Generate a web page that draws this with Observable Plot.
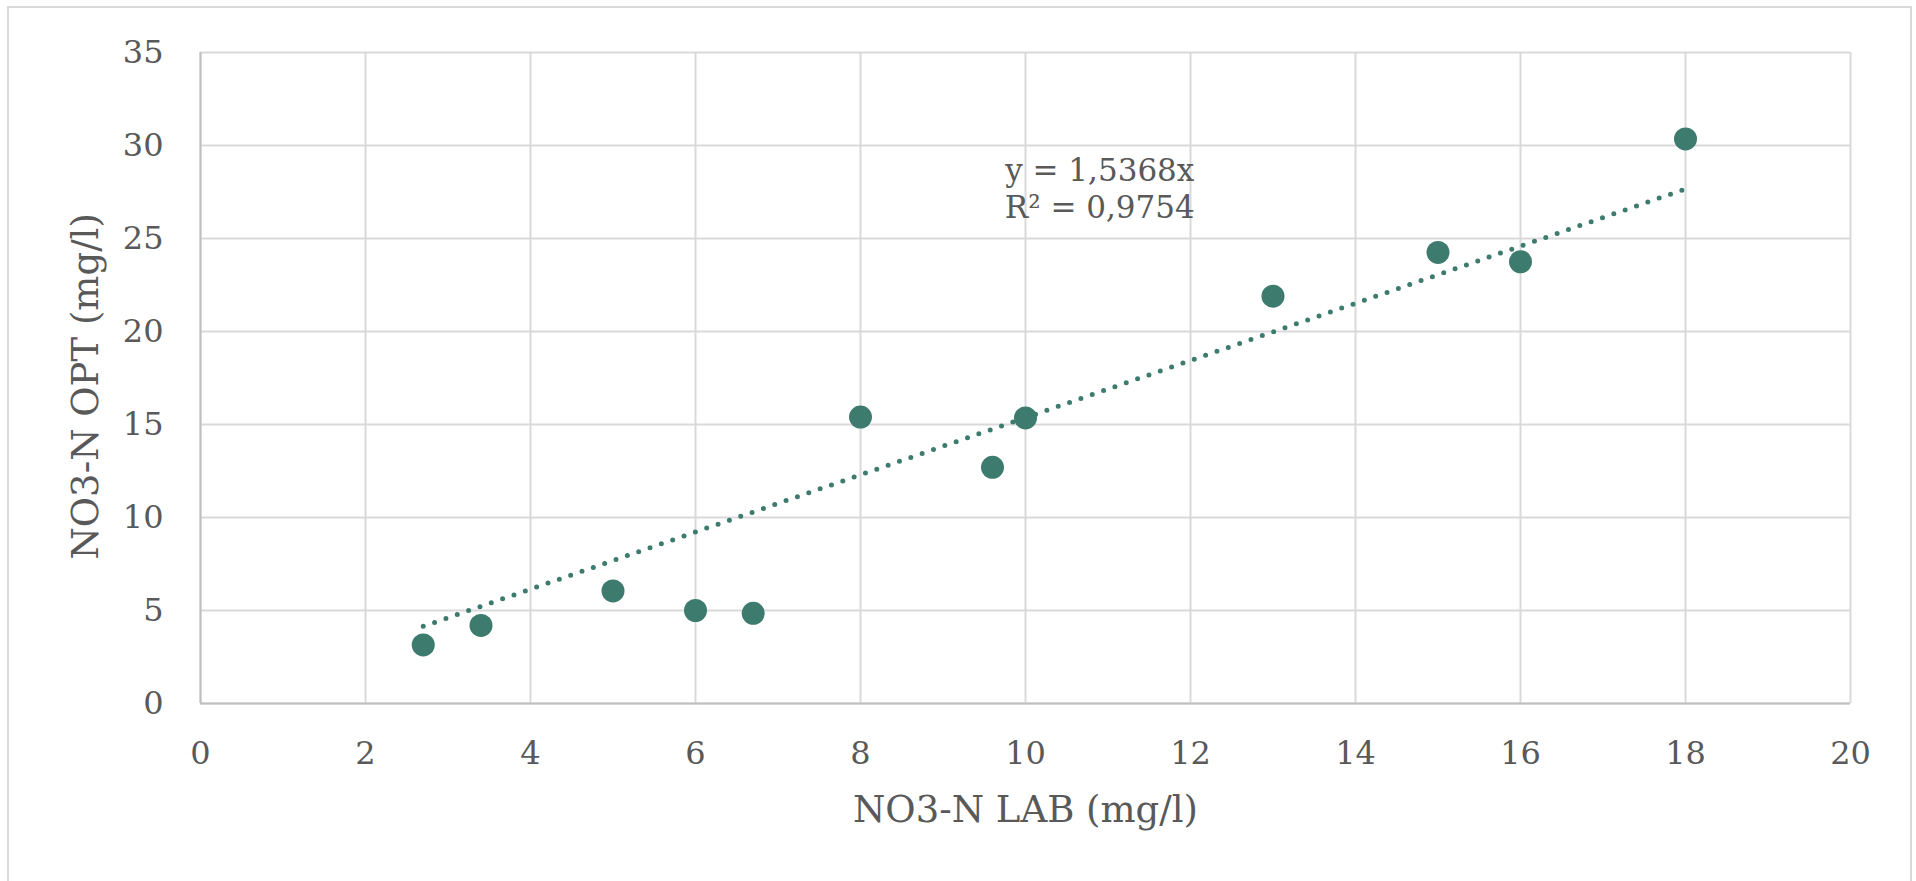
<!DOCTYPE html>
<html>
<head>
<meta charset="utf-8">
<script src="https://cdn.jsdelivr.net/npm/d3@7"></script>
<script src="https://cdn.jsdelivr.net/npm/@observablehq/plot@0.6"></script>
<style>
  html, body { margin: 0; padding: 0; background: #fff; overflow: hidden; }
  #frame { position: absolute; left: 7px; top: 6px; width: 1905px; height: 900px;
           border-top: 2px solid #d9d9d9; border-left: 2px solid #d9d9d9; border-right: 2px solid #d9d9d9; box-sizing: border-box; }
  #chart { position: absolute; left: 0; top: 0; }
</style>
</head>
<body>
<div id="frame"></div>
<div id="chart"></div>
<script>
// Data
const labX = [2.7, 3.4, 5.0, 6.0, 6.7, 8.0, 9.6, 10.0, 13.0, 15.0, 16.0, 18.0];
const optY = [3.15, 4.2, 6.05, 5.0, 4.85, 15.4, 12.7, 15.35, 21.9, 24.25, 23.75, 30.35];
const xTicks = [0, 2, 4, 6, 8, 10, 12, 14, 16, 18, 20];
const yTicks = [0, 5, 10, 15, 20, 25, 30, 35];
const trendSlope = 1.5368;           // from "y = 1,5368x"
const trendRange = [2.7, 18];        // extent of the drawn trendline
const trendLabel = ["y = 1,5368x", "R² = 0,9754"];
const xTitle = "NO3-N LAB (mg/l)";
const yTitle = "NO3-N OPT (mg/l)";

const points = labX.map((x, i) => ({x, y: optY[i]}));
const trend = trendRange.map(x => ({x, y: trendSlope * x}));

const color = "#3e7b6f";
const textColor = "#595959";

const chart = Plot.plot({
  width: 1916,
  height: 881,
  marginLeft: 200,
  marginRight: 66,
  marginTop: 52,
  marginBottom: 178,
  style: {fontFamily: "'DejaVu Serif', serif", fontSize: "32px", color: textColor, background: "transparent"},
  x: {domain: [0, 20], ticks: xTicks},
  y: {domain: [0, 35], ticks: yTicks},
  marks: [
    Plot.gridX(xTicks, {stroke: "#d9d9d9", strokeOpacity: 1, strokeWidth: 2}),
    Plot.gridY(yTicks, {stroke: "#d9d9d9", strokeOpacity: 1, strokeWidth: 2}),
    Plot.ruleX([0], {stroke: "#bfbfbf", strokeWidth: 2}),
    Plot.ruleY([0], {stroke: "#bfbfbf", strokeWidth: 2}),
    Plot.axisX(xTicks, {tickSize: 0, tickPadding: 38, label: null, fontSize: 32, fill: textColor}),
    Plot.axisY(yTicks, {tickSize: 0, tickPadding: 37, label: null, fontSize: 32, fill: textColor}),
    Plot.line(trend, {x: "x", y: "y", stroke: color, strokeWidth: 5, strokeDasharray: "0,12", strokeLinecap: "round"}),
    Plot.dot(points, {x: "x", y: "y", r: 11.5, fill: color, stroke: "none"}),
    Plot.text([trendLabel.join("\n")], {x: 10.9, y: 27.75, text: d => d, fontSize: 31, lineHeight: 1.2, fill: textColor, textAnchor: "middle"}),
    Plot.text([xTitle], {x: 10, y: -5.75, text: d => d, fontSize: 37, fill: textColor, textAnchor: "middle", lineAnchor: "middle"}),
    Plot.text([yTitle], {x: -1.39, y: 17.05, rotate: -90, text: d => d, fontSize: 37, fill: textColor, textAnchor: "middle", lineAnchor: "middle"})
  ]
});
document.getElementById("chart").appendChild(chart);
</script>
</body>
</html>
